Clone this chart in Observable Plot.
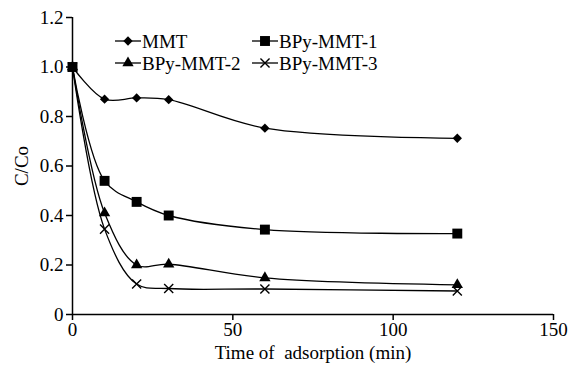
<!DOCTYPE html>
<html>
<head>
<meta charset="utf-8">
<script src="https://cdn.jsdelivr.net/npm/d3@7"></script>
<script src="https://cdn.jsdelivr.net/npm/@observablehq/plot@0.6"></script>
<style>
  body { margin: 0; background: #fff; }
  #chart svg { display: block; }
</style>
</head>
<body>
<div id="chart"></div>
<script>
const times = [0, 10, 20, 30, 60, 120];
const seriesNames = ["MMT", "BPy-MMT-1", "BPy-MMT-2", "BPy-MMT-3"];
const mmt   = [1.0, 0.870, 0.875, 0.868, 0.753, 0.712];
const bpy1  = [1.0, 0.540, 0.455, 0.400, 0.343, 0.327];
const bpy2  = [1.0, 0.410, 0.200, 0.203, 0.148, 0.120];
const bpy3  = [1.0, 0.345, 0.123, 0.105, 0.103, 0.095];
const xTicks = [0, 50, 100, 150];
const yTicks = [0, 0.2, 0.4, 0.6, 0.8, 1.0, 1.2];
const yTickLabels = ["0", "0.2", "0.4", "0.6", "0.8", "1.0", "1.2"];

const allSeries = [mmt, bpy1, bpy2, bpy3];
const symbols = ["diamond2", "square", "triangle", "times"];
const radii = [4.2, 5.6, 4.2, 4.2];

const rows = [];
allSeries.forEach((vals, i) => {
  vals.forEach((v, j) => rows.push({series: seriesNames[i], t: times[j], c: v, idx: i}));
});

const font = "'Liberation Serif', 'Times New Roman', serif";
const fs = 19;

const marks = [];
seriesNames.forEach((name, i) => {
  const d = rows.filter(r => r.series === name);
  marks.push(Plot.line(d, {x: "t", y: "c", curve: "catmull-rom", stroke: "black", strokeWidth: 1.3}));
  const filled = symbols[i] !== "times";
  marks.push(Plot.dot(d, {
    x: "t", y: "c", symbol: () => symbols[i], r: radii[i],
    fill: filled ? "black" : "none",
    stroke: "black", strokeWidth: filled ? 0 : 1.4
  }));
});

const chart = Plot.plot({
  width: 569,
  height: 368,
  marginLeft: 72,
  marginRight: 16,
  marginTop: 17,
  marginBottom: 54,
  style: {fontFamily: font, fontSize: fs + "px", color: "black", background: "white"},
  x: {domain: [0, 150]},
  y: {domain: [0, 1.2]},
  marks: [
    Plot.ruleX([0], {stroke: "black", strokeWidth: 1.5}),
    Plot.ruleY([0], {stroke: "black", strokeWidth: 1.5}),
    Plot.axisX({ticks: xTicks, tickSize: 6, tickPadding: 2, tickFormat: d => String(d),
      label: "Time of\u00a0 adsorption (min)", labelAnchor: "center", labelArrow: "none", labelOffset: 44,
      stroke: "black", strokeWidth: 1.5, fontSize: fs}),
    Plot.axisY({ticks: yTicks, tickSize: 6, tickPadding: 3,
      tickFormat: d => yTickLabels[yTicks.findIndex(t => Math.abs(t - d) < 1e-9)],
      label: "C/Co", labelAnchor: "center", labelArrow: "none", labelOffset: 58,
      stroke: "black", strokeWidth: 1.5, fontSize: fs}),
    ...marks
  ]
});
document.getElementById("chart").appendChild(chart);

// Legend inside the plot area
const svg = d3.select(chart);
const legendItems = [
  {name: seriesNames[0], sym: d3.symbolDiamond2, r: radii[0], x: 115, y: 41, filled: true},
  {name: seriesNames[1], sym: d3.symbolSquare, r: radii[1], x: 252, y: 41, filled: true},
  {name: seriesNames[2], sym: d3.symbolTriangle, r: radii[2], x: 115, y: 63, filled: true},
  {name: seriesNames[3], sym: d3.symbolTimes, r: radii[3], x: 252, y: 63, filled: false}
];
const lg = svg.append("g").attr("font-family", font).attr("font-size", fs).attr("text-anchor", "start");
legendItems.forEach(it => {
  lg.append("line").attr("x1", it.x).attr("x2", it.x + 26).attr("y1", it.y).attr("y2", it.y)
    .attr("stroke", "black").attr("stroke-width", 1.3);
  lg.append("path").attr("transform", `translate(${it.x + 13},${it.y})`)
    .attr("d", d3.symbol(it.sym, Math.PI * it.r * it.r)())
    .attr("fill", it.filled ? "black" : "none")
    .attr("stroke", it.filled ? "none" : "black").attr("stroke-width", 1.4);
  lg.append("text").attr("x", it.x + 27).attr("y", it.y).attr("dy", "0.35em")
    .attr("text-anchor", "start").text(it.name);
});
</script>
</body>
</html>
